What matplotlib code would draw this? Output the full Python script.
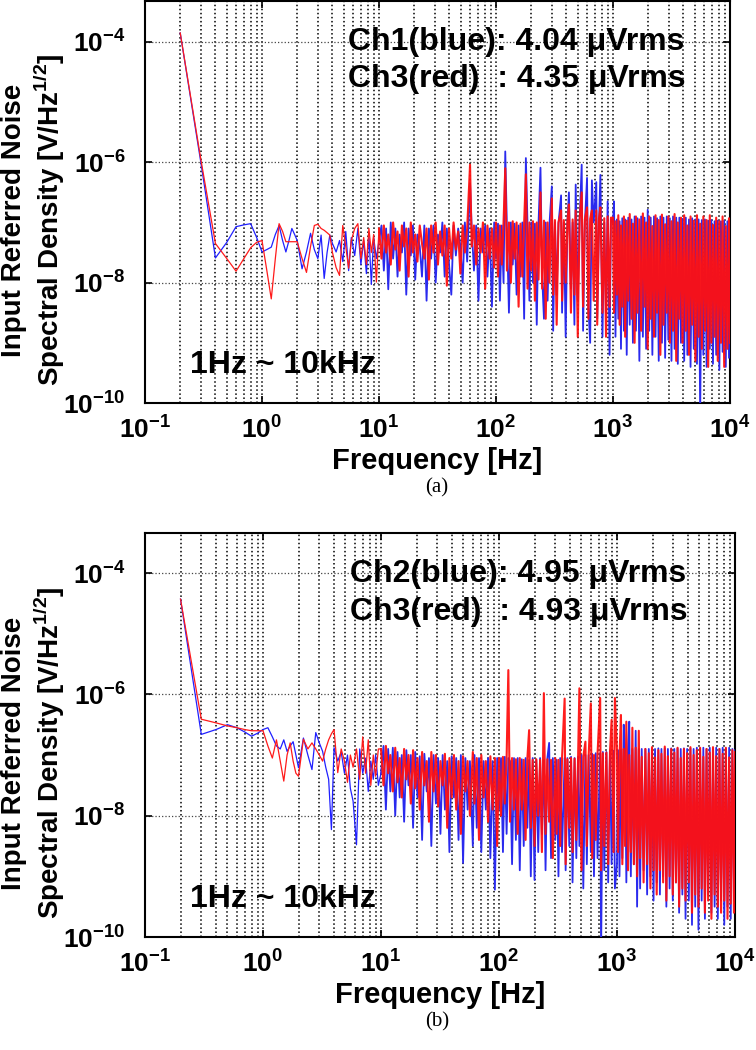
import numpy as np
import matplotlib
matplotlib.use("Agg")
import matplotlib.pyplot as plt
import matplotlib.ticker as ticker

plt.rcParams["font.family"] = ["Liberation Sans", "DejaVu Sans"]
plt.rcParams["mathtext.fontset"] = "custom"
plt.rcParams["mathtext.rm"] = "Liberation Sans"
plt.rcParams["mathtext.bf"] = "Liberation Sans:bold"

# ── Data (log10 of V/Hz^1/2) ──────────────────────────────────────────────────
freq_low = [0.2, 0.3, 0.4, 0.5, 0.6, 0.7, 0.8, 0.9, 1.0, 1.1, 1.2, 1.3, 1.4, 1.5,
            1.6, 1.7, 1.8, 1.9, 2.0, 2.2, 2.4, 2.6, 2.8, 3.0, 3.2, 3.4, 3.6, 3.8,
            4.0, 4.3, 4.6, 4.9, 5.2, 5.5, 5.8, 6.2, 6.6, 7.0, 7.4, 7.8, 8.2, 8.6,
            9.0, 9.5]
freq_dec1 = [10, 10.5, 11, 11.5, 12, 12.6, 13.2, 13.8, 14.4, 15, 15.7, 16.4, 17.1,
             17.9, 18.7, 19.5, 20.4, 21.3, 22.3, 23.3, 24.4, 25.5, 26.7, 27.9, 29.2,
             30.5, 31.9, 33.3, 34.8, 36.4, 38, 39.7, 41.5, 43.4, 45.4, 47.5, 49.6,
             51.9, 54.2, 56.7, 60, 62, 64.8, 67.7, 70.8, 74, 77.3, 80.8, 84.5, 88.3,
             92.3, 96.5]
freq_dec2 = [100, 104, 108, 112, 116, 120, 124, 129, 134, 139, 144, 150, 156, 162,
             168, 174, 180, 186, 193, 200, 207, 215, 223, 231, 240, 248, 257, 266,
             276, 286, 300, 308, 319, 330, 342, 360, 367, 380, 394, 408, 420, 437,
             452, 468, 480, 500, 518, 540, 555, 575, 600, 616, 638, 660, 684, 720,
             733, 759, 780, 813, 842, 872, 900, 935, 960]
freq_dec3 = [1000, 1020, 1050, 1080, 1110, 1140, 1170, 1200, 1240, 1270, 1310, 1350,
             1390, 1440, 1480, 1530, 1570, 1620, 1680, 1740, 1800, 1860, 1920, 1980,
             2040, 2100, 2170, 2240, 2310, 2380, 2460, 2540, 2620, 2700, 2790, 2880,
             2970, 3060, 3160, 3260, 3360, 3470, 3580, 3690, 3810, 3930, 4060, 4190,
             4320, 4460, 4600, 4750, 4900, 5060, 5220, 5390, 5560, 5740, 5920, 6110,
             6310, 6510, 6720, 6930, 7150, 7380, 7620, 7860, 8110, 8370, 8640, 8920,
             9200, 9500, 9800, 10000]
freq_hz = freq_low + freq_dec1 + freq_dec2 + freq_dec3

# panel (a): Ch1 blue, Ch3 red
a_blue = (
    [-3.85, -6.0, -7.59, -7.33, -7.07, -7.04, -7.02, -7.25, -7.49, -7.45, -7.41, -7.2,
     -7.05, -7.3, -7.49, -7.3, -7.10, -7.2, -7.30, -7.77, -7.49, -7.18, -7.45, -7.60,
     -7.21, -7.93, -7.5, -7.21, -7.35, -7.49, -7.30, -7.65, -7.15, -7.8, -7.25, -7.55,
     -7.1, -7.7, -7.3, -7.85, -7.2, -8.03, -7.25, -7.6]
    + [-7.3, -7.05, -7.8, -7.1, -8.11, -7.0, -7.6, -7.1, -7.9, -7.2, -7.5, -7.0, -8.2,
       -7.1, -7.55, -7.05, -7.95, -7.2, -7.4, -7.9, -7.05, -8.3, -7.1, -7.6, -7.05, -8.0,
       -7.2, -7.5, -7.0, -7.9, -7.1, -7.7, -8.2, -7.05, -7.55, -7.1, -7.4, -8.0, -7.0,
       -7.65, -6.35, -7.1, -7.8, -7.05, -8.3, -7.1, -7.5, -7.05, -7.9, -7.1, -8.4, -7.0]
    + [-7.6, -7.02, -8.3, -7.05, -8.0, -5.82, -7.1, -8.5, -7.0, -7.7, -7.02, -8.2, -7.05,
       -7.9, -7.0, -8.6, -5.93, -7.05, -8.3, -7.0, -8.0, -7.02, -8.7, -7.0, -6.09, -7.9,
       -8.6, -7.0, -8.3, -7.05, -6.40, -8.8, -7.0, -8.2, -7.02, -6.55, -8.5, -7.0, -8.9,
       -7.0, -6.50, -8.1, -7.0, -8.7, -6.37, -8.3, -7.0, -6.04, -8.8, -7.0, -6.26, -8.4,
       -9.0, -6.30, -7.0, -6.33, -8.6, -7.0, -6.21, -8.9, -7.0, -8.5, -6.65, -9.2, -6.95]
    + [-7.0, -6.65, -8.9, -6.95, -8.6, -6.98, -9.1, -6.93, -8.8, -6.95, -9.2, -6.92,
       -8.7, -6.95, -9.0, -6.9, -8.8, -6.93, -9.3, -6.9, -8.9, -6.92, -9.1, -6.79, -8.8,
       -6.92, -9.2, -6.9, -8.9, -6.93, -9.3, -6.9, -9.0, -6.92, -9.25, -6.9, -8.95,
       -6.93, -9.3, -6.9, -9.1, -6.92, -9.35, -6.92, -9.0, -6.94, -9.3, -6.92, -9.2,
       -6.95, -9.4, -6.93, -9.1, -6.95, -9.35, -6.95, -10.2, -6.96, -9.2, -6.95, -9.4,
       -6.97, -9.1, -6.96, -9.35, -6.98, -9.2, -6.97, -9.45, -6.98, -9.15, -6.97, -9.4,
       -6.98, -9.25, -7.0]
)
a_red = (
    [-3.85, -5.95, -7.35, -7.6, -7.81, -7.6, -7.42, -7.33, -7.30, -7.8, -8.27, -7.6,
     -7.02, -7.15, -7.32, -7.32, -7.32, -7.32, -7.32, -7.6, -7.83, -7.4, -7.05, -7.03,
     -7.1, -7.13, -7.17, -7.21, -7.5, -7.75, -7.88, -7.05, -7.4, -7.76, -7.3, -7.1,
     -7.02, -7.6, -7.25, -7.7, -7.1, -7.5, -7.2, -7.99]
    + [-7.1, -7.6, -7.05, -7.5, -7.2, -7.7, -7.0, -7.45, -7.15, -7.8, -7.05, -7.4, -7.1,
       -7.9, -7.0, -7.5, -7.2, -7.65, -7.05, -7.35, -7.6, -7.1, -7.95, -7.05, -7.5, -7.0,
       -7.7, -7.15, -7.55, -7.05, -8.05, -7.1, -7.6, -7.0, -7.45, -7.15, -7.85, -7.05,
       -7.5, -7.1, -6.04, -7.4, -7.05, -7.7, -7.1, -7.5, -7.0, -8.1, -7.05, -7.6, -7.1,
       -7.75]
    + [-7.0, -7.9, -7.05, -7.7, -7.0, -6.1, -7.8, -7.0, -8.0, -6.98, -7.6, -7.0, -8.4,
       -7.02, -7.9, -7.0, -6.2, -8.1, -7.0, -7.8, -6.98, -8.3, -7.0, -7.95, -6.5, -8.1,
       -6.97, -8.6, -7.0, -8.0, -6.6, -8.2, -6.96, -8.7, -7.0, -6.8, -8.3, -6.96, -8.0,
       -6.98, -6.7, -8.5, -6.95, -8.2, -6.8, -8.9, -6.95, -6.5, -8.4, -6.95, -6.75, -8.6,
       -6.94, -6.8, -8.3, -6.8, -8.7, -6.93, -6.75, -8.5, -6.93, -8.9, -6.9, -8.4, -6.92]
    + [-6.92, -8.5, -6.98, -8.2, -6.88, -8.7, -7.05, -8.4, -6.9, -8.9, -6.97, -8.3,
       -6.86, -8.6, -7.02, -9.0, -6.9, -8.5, -6.95, -8.8, -6.85, -8.4, -7.0, -9.1, -6.9,
       -8.6, -7.06, -8.9, -6.88, -8.5, -6.96, -9.2, -6.87, -8.7, -7.03, -8.5, -6.9, -9.0,
       -6.98, -8.8, -6.86, -9.3, -7.0, -8.6, -6.92, -9.0, -6.88, -8.8, -7.05, -9.2, -6.9,
       -8.7, -6.97, -9.3, -6.88, -8.9, -7.02, -9.1, -6.9, -8.8, -6.96, -9.4, -6.88, -9.0,
       -7.04, -8.9, -6.92, -9.3, -6.98, -9.0, -6.9, -9.4, -7.06, -9.1, -6.93, -9.0]
)

# panel (b): Ch2 blue, Ch3 red
b_blue = (
    [-4.43, -6.66, -6.58, -6.50, -6.55, -6.62, -6.69, -6.64, -6.58, -6.55, -6.7, -6.85,
     -6.9, -6.75, -6.94, -6.85, -6.78, -7.0, -7.21, -6.72, -7.0, -7.24, -6.63, -6.8,
     -6.94, -7.2, -7.4, -8.23, -6.88, -7.1, -6.95, -7.3, -7.0, -7.55, -7.76, -8.48,
     -6.9, -7.3, -7.05, -7.6, -7.1, -7.4, -7.0, -7.5]
    + [-7.3, -6.85, -7.9, -6.9, -7.6, -6.88, -8.0, -6.95, -7.7, -7.0, -8.1, -6.92, -7.5,
       -7.0, -8.2, -6.95, -7.7, -7.02, -8.4, -6.98, -7.6, -7.05, -8.5, -7.0, -7.8, -7.05,
       -8.3, -7.0, -7.9, -7.1, -8.6, -7.02, -7.7, -7.05, -8.4, -7.0, -8.78, -7.05, -7.9,
       -7.1, -8.5, -7.0, -8.2, -7.05, -8.6, -7.1, -7.9, -7.05, -8.7, -7.1, -9.22, -7.05]
    + [-7.9, -7.05, -8.6, -7.03, -8.3, -7.05, -7.1, -8.8, -7.05, -8.4, -7.05, -8.9, -7.07,
       -8.5, -7.05, -8.2, -7.08, -9.0, -7.05, -9.06, -7.08, -8.6, -7.05, -8.3, -7.08,
       -8.9, -7.05, -6.8, -8.7, -7.05, -8.4, -7.08, -9.0, -7.05, -8.6, -7.05, -8.9,
       -7.05, -8.5, -7.03, -9.1, -7.05, -8.7, -7.03, -8.5, -7.0, -9.2, -7.0, -8.8, -7.0,
       -8.6, -6.98, -9.0, -6.97, -8.7, -6.97, -10.3, -6.95, -8.9, -6.95, -9.1, -6.93,
       -8.8, -6.93, -9.2]
    + [-8.8, -6.92, -9.0, -6.92, -8.7, -6.5, -6.92, -9.1, -6.92, -6.45, -9.0, -6.9,
       -8.8, -6.6, -9.5, -6.9, -9.2, -6.9, -8.9, -6.9, -9.3, -6.9, -9.0, -6.9, -9.4,
       -6.9, -9.1, -6.89, -9.3, -6.9, -9.0, -6.89, -9.5, -6.9, -9.2, -6.89, -9.4, -6.9,
       -9.1, -6.89, -9.6, -6.9, -9.3, -6.89, -9.7, -6.9, -9.4, -6.89, -9.8, -6.9, -9.5,
       -6.88, -9.88, -6.9, -9.4, -6.88, -9.7, -6.9, -9.3, -6.88, -9.6, -6.9, -9.5, -6.88,
       -9.7, -6.9, -9.4, -6.88, -9.8, -6.9, -9.5, -6.88, -9.7, -6.9, -9.4, -6.92]
)
b_red = (
    [-4.43, -6.41, -6.47, -6.52, -6.55, -6.58, -6.60, -6.60, -6.60, -6.85, -7.05, -6.75,
     -7.1, -7.43, -7.0, -6.80, -7.1, -7.3, -7.35, -6.74, -6.9, -6.8, -6.9, -7.0, -7.10,
     -6.9, -6.75, -6.65, -6.58, -7.29, -6.9, -7.1, -7.45, -7.0, -7.2, -6.9, -7.4, -6.70,
     -7.3, -6.75, -7.5, -7.0, -7.35, -6.9]
    + [-6.9, -7.5, -6.85, -7.3, -7.0, -7.6, -6.88, -7.45, -7.05, -7.7, -6.9, -7.4, -7.0,
       -7.8, -6.92, -7.55, -7.05, -7.9, -6.95, -7.5, -7.1, -8.1, -6.95, -7.6, -7.0, -7.85,
       -7.1, -7.5, -6.98, -8.2, -7.05, -7.7, -7.0, -7.9, -7.1, -8.3, -7.02, -7.6, -7.1,
       -8.0, -6.95, -7.8, -7.05, -8.4, -7.0, -7.7, -7.1, -8.1, -7.02, -7.9, -7.05, -8.5]
    + [-7.05, -8.0, -7.03, -7.8, -7.05, -5.60, -8.1, -7.05, -7.9, -7.07, -8.3, -7.05,
       -7.9, -7.08, -8.4, -7.05, -6.59, -8.2, -7.08, -8.5, -7.07, -8.0, -7.08, -8.6,
       -5.98, -8.3, -7.07, -8.1, -7.08, -8.7, -7.05, -8.3, -7.08, -8.5, -7.06, -6.07,
       -8.8, -7.07, -8.2, -7.05, -8.6, -7.06, -8.4, -7.05, -5.90, -8.9, -7.03, -6.78,
       -8.5, -7.02, -6.15, -8.7, -7.0, -8.4, -6.98, -6.06, -8.9, -6.97, -8.5, -6.96,
       -8.8, -6.95, -6.42, -8.6, -6.06]
    + [-6.95, -8.6, -7.02, -6.34, -8.8, -6.9, -8.5, -6.45, -8.9, -7.0, -8.6, -6.55,
       -8.8, -6.88, -9.0, -6.6, -8.7, -7.03, -9.1, -6.9, -8.8, -6.97, -9.2, -6.87, -8.9,
       -7.04, -9.3, -6.92, -8.9, -6.98, -9.1, -6.86, -9.4, -7.02, -9.0, -6.9, -9.3,
       -6.96, -9.1, -6.88, -9.5, -7.05, -9.2, -6.9, -9.4, -6.97, -9.1, -6.87, -9.6,
       -7.0, -9.3, -6.92, -9.5, -6.88, -9.2, -7.03, -9.6, -6.9, -9.4, -6.96, -9.7,
       -6.87, -9.3, -7.02, -9.5, -6.9, -9.6, -6.98, -9.4, -6.88, -9.7, -7.04, -9.45,
       -6.92, -9.6, -6.95]
)

panel_tags = ["(a)", "(b)"]
legend_lines = [["Ch1(blue): 4.04 \u03bcVrms", "Ch3(red)  : 4.35 \u03bcVrms"],
                ["Ch2(blue): 4.95 \u03bcVrms", "Ch3(red)  : 4.93 \u03bcVrms"]]
band_text = "1Hz ~ 10kHz"
y_ticks = [1e-10, 1e-8, 1e-6, 1e-4]

for s in (a_blue, a_red, b_blue, b_red):
    assert len(s) == len(freq_hz), (len(s), len(freq_hz))

# ── Figure ────────────────────────────────────────────────────────────────────
W, H = 756, 1050
fig = plt.figure(figsize=(W / 100, H / 100), dpi=100)

# axes boxes in pixels: left, right, top, bottom
boxes = [(145, 730, 1, 403), (145, 735, 533, 937)]
y_tops = [10 ** -3.32, 10 ** -3.34]
series = [(a_blue, a_red), (b_blue, b_red)]
n_low = len(freq_low)

for i, (l, r, t, b) in enumerate(boxes):
    ax = fig.add_axes([l / W, 1 - b / H, (r - l) / W, (b - t) / H])
    blue, red = series[i]
    f = np.array(freq_hz)
    yb = 10 ** np.array(blue)
    yr = 10 ** np.array(red)
    # sparse low-frequency part: thin lines; dense FFT part: heavier strokes
    ax.plot(f[:n_low + 1], yb[:n_low + 1], color="#2020ff", lw=0.9, zorder=3)
    ax.plot(f[:n_low + 1], yr[:n_low + 1], color="#ff1a1a", lw=0.9, zorder=4)
    ax.plot(f[n_low:], yb[n_low:], color="#2a2aee", lw=1.3, zorder=3)
    ax.plot(f[n_low:], yr[n_low:], color="#ff1010", lw=1.5, alpha=0.95, zorder=4)

    ax.set_xscale("log")
    ax.set_yscale("log")
    ax.set_xlim(0.1, 1e4)
    ax.set_ylim(1e-10, y_tops[i])

    ax.yaxis.set_major_locator(ticker.FixedLocator(y_ticks))
    ax.yaxis.set_minor_locator(ticker.NullLocator())
    ax.xaxis.set_major_locator(ticker.LogLocator(base=10, numticks=10))
    ax.xaxis.set_minor_locator(ticker.LogLocator(base=10, subs=np.arange(2, 10), numticks=10))
    ax.xaxis.set_minor_formatter(ticker.NullFormatter())

    ax.yaxis.set_major_formatter(ticker.FuncFormatter(
        lambda v, p: r"$\mathbf{10^{%d}}$" % round(np.log10(v))))
    ax.xaxis.set_major_formatter(ticker.FuncFormatter(
        lambda v, p: r"$\mathbf{10^{%d}}$" % round(np.log10(v))))

    ax.grid(True, which="major", axis="x", ls=":", color="black", lw=1.1)
    ax.grid(True, which="minor", axis="x", ls=":", color="black", lw=1.1)
    ax.grid(True, which="major", axis="y", ls=":", color="#444444", lw=0.9)

    ax.tick_params(which="both", direction="in", top=True, right=True)
    ax.tick_params(which="major", length=5, width=1.2, labelsize=19)
    ax.tick_params(which="minor", length=0)
    ax.tick_params(axis="y", pad=14)
    ax.tick_params(axis="x", pad=10)
    for sp in ax.spines.values():
        sp.set_linewidth(1.5)

    ax.text(0.347, 0.898, legend_lines[i][0], transform=ax.transAxes,
            fontsize=23, fontweight="bold", va="center", ha="left", zorder=6)
    ax.text(0.347, 0.805, legend_lines[i][1], transform=ax.transAxes,
            fontsize=23, fontweight="bold", va="center", ha="left", zorder=6)
    ax.text(0.077, 0.094, band_text, transform=ax.transAxes,
            fontsize=23, fontweight="bold", va="center", ha="left", zorder=6)

    ax.set_xlabel("Frequency [Hz]", fontsize=21, fontweight="bold", labelpad=2)

    yc = (t + b) / 2 + 18
    fig.text(34 / W, 1 - yc / H,
             "Input Referred Noise\nSpectral Density [V/Hz$^{\\mathregular{1/2}}$]",
             rotation=90, ha="center", va="center", fontsize=20,
             fontweight="bold", linespacing=1.15)
    fig.text(437 / W, 1 - (b + 85) / H, panel_tags[i], ha="center", va="center",
             fontsize=15, family="Liberation Serif")

fig.savefig("out.png", dpi=100)
